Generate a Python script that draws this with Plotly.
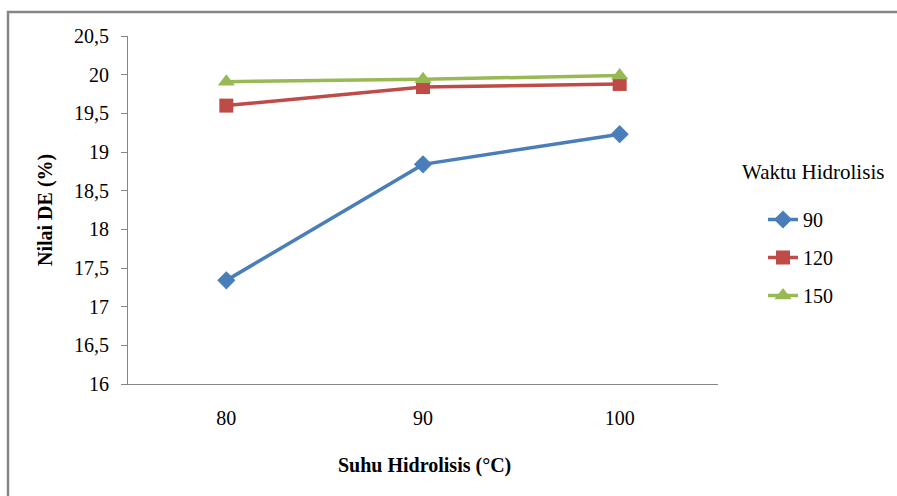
import plotly.graph_objects as go

categories = ["80", "90", "100"]
series_names = ["90", "120", "150"]
values_90 = [17.34, 18.84, 19.23]
values_120 = [19.60, 19.84, 19.88]
values_150 = [19.91, 19.94, 19.99]
y_ticks = [16, 16.5, 17, 17.5, 18, 18.5, 19, 19.5, 20, 20.5]
y_tick_labels = ["16", "16,5", "17", "17,5", "18", "18,5", "19", "19,5", "20", "20,5"]

colors = ["#4A7EBB", "#BE4B48", "#98B954"]
symbols = ["diamond", "square", "triangle-up"]
msizes = [14, 14, 15]
series_values = [values_90, values_120, values_150]

W, H = 897, 496
L, R, T, B = 128, 718, 36, 384

fig = go.Figure()
for i, (name, vals) in enumerate(zip(series_names, series_values)):
    fig.add_trace(go.Scatter(
        x=categories, y=vals, name=name, mode="lines+markers",
        line=dict(color=colors[i], width=3.5),
        marker=dict(symbol=symbols[i], size=msizes[i], color=colors[i]),
        legendgroup=name,
    ))

font = "Liberation Serif"
fs = 20
fig.update_layout(
    width=W, height=H,
    margin=dict(l=L, r=W - R, t=T, b=H - B, pad=0),
    paper_bgcolor="white", plot_bgcolor="white",
    font=dict(family=font, size=fs, color="black"),
    showlegend=True,
    legend=dict(x=(763 - L) / (R - L), y=(B - 200) / (B - T), xanchor="left", yanchor="top",
                font=dict(family=font, size=fs), tracegroupgap=9,
                bgcolor="rgba(0,0,0,0)", itemwidth=30),
    xaxis=dict(type="category", showgrid=False, showline=True, linecolor="#868686", linewidth=1,
               ticks="", tickfont=dict(family=font, size=fs), ticklabelstandoff=16,
               range=[-0.5, 2.5], zeroline=False),
    yaxis=dict(range=[16, 20.5], tickvals=y_ticks, ticktext=y_tick_labels, showgrid=False,
               showline=True, linecolor="#868686", linewidth=1, ticks="outside", ticklen=6,
               tickcolor="#868686", tickfont=dict(family=font, size=fs), zeroline=False,
               ticklabelstandoff=8),
    annotations=[
        dict(text="<b>Nilai DE (%)</b>", textangle=-90, xref="paper", yref="paper",
             x=(45 - L) / (R - L), y=(B - 210) / (B - T), showarrow=False,
             font=dict(family=font, size=fs), xanchor="center", yanchor="middle"),
        dict(text="<b>Suhu Hidrolisis (°C)</b>", xref="paper", yref="paper",
             x=(424 - L) / (R - L), y=(B - 465) / (B - T), showarrow=False,
             font=dict(family=font, size=fs), xanchor="center", yanchor="middle"),
        dict(text="Waktu Hidrolisis", xref="paper", yref="paper",
             x=(740 - L) / (R - L), y=(B - 172) / (B - T), showarrow=False,
             font=dict(family=font, size=fs + 1), xanchor="left", yanchor="middle"),
    ],
    shapes=[
        dict(type="path", xref="paper", yref="paper",
             path="M {x0} {y0} L {x0} {y1} L {x2} {y1}".format(
                 x0=(8 - L) / (R - L), y0=(B - 520) / (B - T), y1=(B - 12) / (B - T),
                 x2=(920 - L) / (R - L)),
             line=dict(color="#868686", width=2.5)),
    ],
)

fig.write_html("out.html")
